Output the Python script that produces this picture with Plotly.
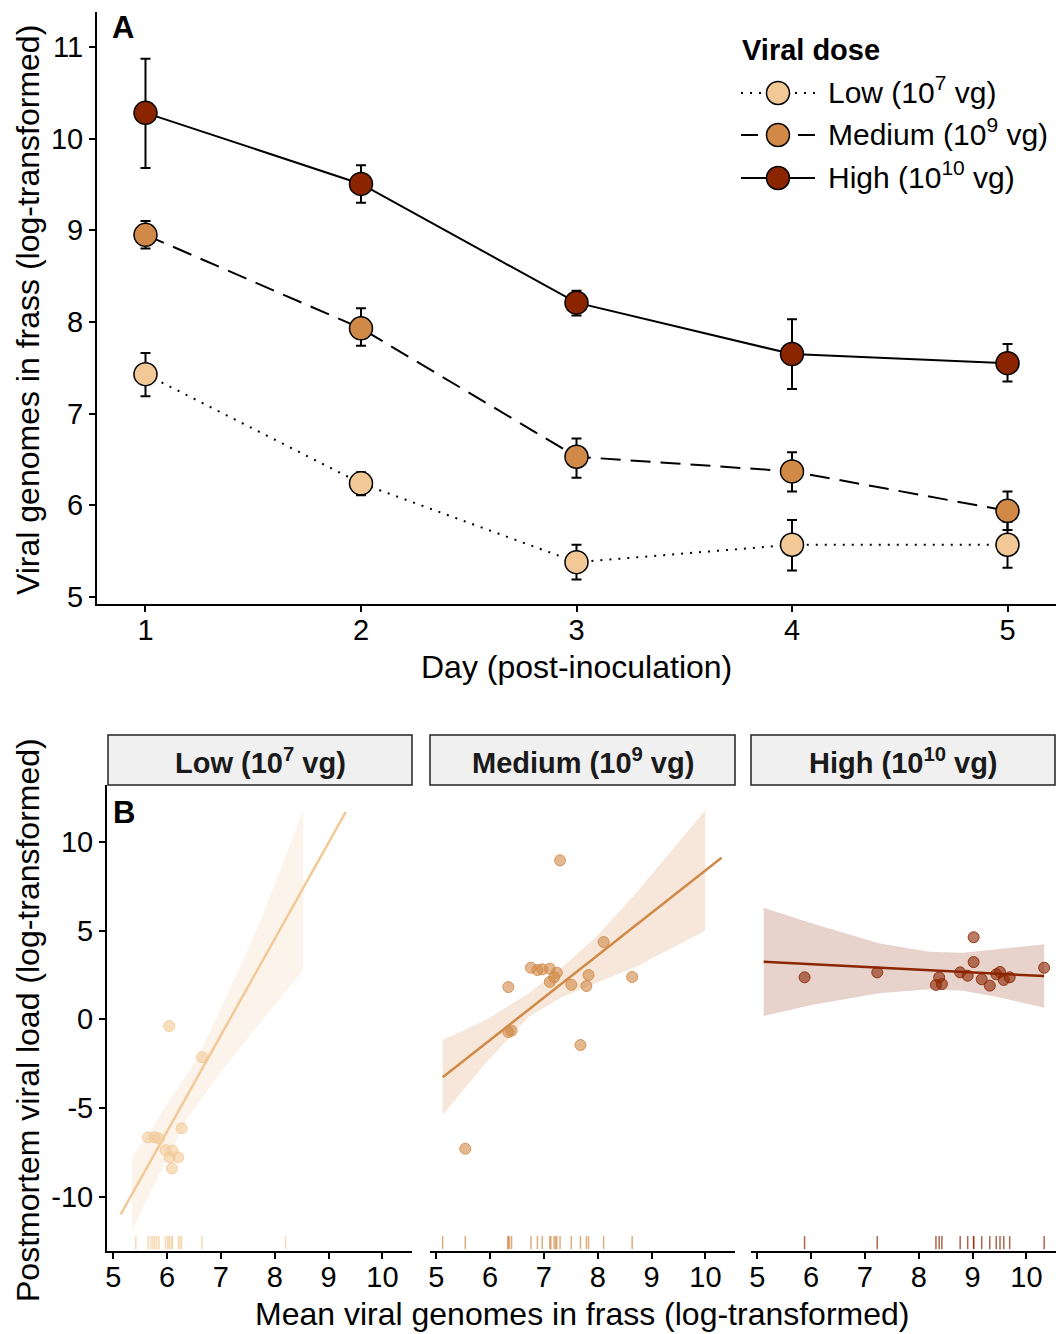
import plotly.graph_objects as go

# ---------------- Panel A data ----------------
days = [1, 2, 3, 4, 5]
low_mean = [7.43, 6.24, 5.38, 5.57, 5.57]
low_upper = [7.66, 6.36, 5.57, 5.84, 5.82]
low_lower = [7.19, 6.11, 5.19, 5.29, 5.32]
med_mean = [8.95, 7.93, 6.53, 6.37, 5.94]
med_upper = [9.10, 8.15, 6.73, 6.58, 6.15]
med_lower = [8.80, 7.74, 6.30, 6.15, 5.73]
high_mean = [10.28, 9.505, 8.21, 7.65, 7.55]
high_upper = [10.87, 9.71, 8.34, 8.03, 7.76]
high_lower = [9.68, 9.30, 8.07, 7.27, 7.35]

dose_labels = ["Low (10<sup>7</sup> vg)", "Medium (10<sup>9</sup> vg)", "High (10<sup>10</sup> vg)"]
legend_title = "Viral dose"
day_ticks = [1, 2, 3, 4, 5]
a_y_ticks = [5, 6, 7, 8, 9, 10, 11]

# ---------------- Panel B data ----------------
low_x = [6.04, 6.65, 6.27, 5.65, 5.77, 5.85, 5.97, 6.10, 6.05, 6.21, 6.09]
low_y = [-0.38, -2.14, -6.15, -6.66, -6.66, -6.72, -7.38, -7.41, -7.79, -7.79, -8.41]
low_rug_x = [5.42, 5.65, 5.70, 5.74, 5.77, 5.81, 5.85, 5.97, 6.01, 6.04, 6.05,
             6.09, 6.10, 6.21, 6.24, 6.27, 6.65, 8.20]

med_x = [7.30, 8.11, 6.76, 6.88, 6.97, 7.11, 7.24, 7.19, 7.11, 7.83, 8.64, 7.51,
         7.79, 6.34, 6.34, 6.40, 7.68, 5.54]
med_y = [8.97, 4.36, 2.91, 2.78, 2.82, 2.86, 2.63, 2.37, 2.11, 2.50, 2.39, 1.95,
         1.88, 1.82, -0.72, -0.64, -1.45, -7.30]
med_rug_x = [5.12, 5.54, 6.33, 6.34, 6.36, 6.40, 6.76, 6.88, 6.97, 7.11, 7.13, 7.19,
             7.22, 7.24, 7.30, 7.51, 7.68, 7.79, 7.83, 8.11, 8.64]

high_x = [5.88, 7.23, 8.38, 8.32, 8.43, 9.02, 9.02, 8.77, 8.91, 9.17, 9.32, 9.44,
          9.51, 9.58, 9.69, 10.33]
high_y = [2.37, 2.65, 2.37, 1.94, 1.99, 4.63, 3.23, 2.65, 2.46, 2.26, 1.90, 2.54,
          2.67, 2.22, 2.37, 2.91]
high_rug_x = list(high_x)

low_fit_x = [5.14, 9.32]
low_fit_y = [-11.0, 11.7]
med_fit_x = [5.12, 10.30]
med_fit_y = [-3.27, 9.11]
high_fit_x = [5.12, 10.33]
high_fit_y = [3.25, 2.44]

low_band_up_x = [5.35, 5.62, 6.05, 6.55, 7.10, 7.72, 8.53]
low_band_up_y = [-7.71, -6.63, -4.55, -2.30, 1.27, 5.42, 11.81]
low_band_lo_x = [5.35, 5.87, 6.36, 6.98, 7.72, 8.53]
low_band_lo_y = [-11.89, -8.69, -5.68, -3.05, -0.23, 2.78]

med_band_x = [5.12, 5.92, 6.72, 7.35, 7.97, 8.71, 10.0]
med_band_up = [-1.17, -0.04, 1.47, 2.97, 4.66, 7.11, 11.81]
med_band_lo = [-5.40, -2.48, 0.15, 1.28, 2.03, 2.97, 5.0]

high_band_x = [5.12, 6.01, 7.26, 8.19, 8.82, 9.44, 10.33]
high_band_up = [6.30, 5.42, 4.29, 3.81, 3.76, 3.95, 4.23]
high_band_lo = [0.19, 0.81, 1.47, 1.69, 1.61, 1.28, 0.65]

b_x_ticks = [5, 6, 7, 8, 9, 10]
b_y_ticks = [-10, -5, 0, 5, 10]
b_y_ticktext = ["-10", "-5", "0", "5", "10"]

# ---------------- styling ----------------
FONT = "Liberation Sans, Arial, sans-serif"
W, H = 1056, 1334
COL_LOW = (242, 201, 150)
COL_MED = (208, 137, 70)
COL_HIGH = (139, 37, 0)
DASH_LOW = "2px,7px"
DASH_MED = "20px,10px"
DASH_HIGH = "solid"
TICK_SIZE = 29
TITLE_SIZE = 32


def rgb(c, a=1.0):
    return f"rgba({c[0]},{c[1]},{c[2]},{a})"


def px_x(p):
    return p / W


def px_y(p):
    return 1 - p / H


fig = go.Figure()

# Panel A traces
series_a = [
    (low_mean, low_upper, low_lower, COL_LOW, DASH_LOW, dose_labels[0]),
    (med_mean, med_upper, med_lower, COL_MED, DASH_MED, dose_labels[1]),
    (high_mean, high_upper, high_lower, COL_HIGH, DASH_HIGH, dose_labels[2]),
]
for mean, up, lo, col, dash, name in series_a:
    fig.add_trace(go.Scatter(
        x=days, y=mean, mode="lines+markers", name=name,
        line=dict(color="black", width=2, dash=dash),
        marker=dict(size=23, color=rgb(col), line=dict(color="black", width=1.5)),
        error_y=dict(type="data", symmetric=False,
                     array=[u - m for u, m in zip(up, mean)],
                     arrayminus=[m - l for l, m in zip(lo, mean)],
                     color="black", thickness=2, width=5),
        xaxis="x", yaxis="y", showlegend=False,
    ))

# Panel B traces
facets = [
    ("x2", "y2", COL_LOW, low_x, low_y, low_fit_x, low_fit_y,
     low_band_up_x + low_band_lo_x[::-1], low_band_up_y + low_band_lo_y[::-1], low_rug_x),
    ("x3", "y3", COL_MED, med_x, med_y, med_fit_x, med_fit_y,
     med_band_x + med_band_x[::-1], med_band_up + med_band_lo[::-1], med_rug_x),
    ("x4", "y4", COL_HIGH, high_x, high_y, high_fit_x, high_fit_y,
     high_band_x + high_band_x[::-1], high_band_up + high_band_lo[::-1], high_rug_x),
]

shapes = []
for xa, ya, col, px_, py_, fx, fy, bx, by, rug in facets:
    fig.add_trace(go.Scatter(
        x=bx, y=by, mode="lines", fill="toself", fillcolor=rgb(col, 0.2),
        line=dict(width=0), hoverinfo="skip", showlegend=False, xaxis=xa, yaxis=ya))
    fig.add_trace(go.Scatter(
        x=fx, y=fy, mode="lines", line=dict(color=rgb(col), width=2.5),
        showlegend=False, xaxis=xa, yaxis=ya))
    fig.add_trace(go.Scatter(
        x=px_, y=py_, mode="markers",
        marker=dict(size=11, color=rgb(col, 0.6), line=dict(color=rgb(col, 0.85), width=1)),
        showlegend=False, xaxis=xa, yaxis=ya))
    for rx in rug:
        shapes.append(dict(type="line", xref=xa, yref=f"{ya} domain", x0=rx, x1=rx,
                           y0=0.004, y1=0.032, line=dict(color=rgb(col, 0.7), width=1.5)))

# ---------------- manual legend (pixel-space overlay axis) ----------------
leg_x0, leg_x1, leg_mx, leg_tx = 741, 815, 778, 826
leg_rows = [93, 135, 178]
annotations = []
for (mean, up, lo, col, dash, name), ly in zip(series_a, leg_rows):
    if dash == DASH_MED:
        lx, lyy = [leg_x0, 758, None, 798, leg_x1], [ly, ly, None, ly, ly]
        ldash = "solid"
    else:
        lx, lyy = [leg_x0, leg_x1], [ly, ly]
        ldash = dash
    fig.add_trace(go.Scatter(x=lx, y=lyy, mode="lines", line=dict(color="black", width=2, dash=ldash),
                             showlegend=False, hoverinfo="skip", xaxis="x5", yaxis="y5"))
    fig.add_trace(go.Scatter(x=[leg_mx], y=[ly], mode="markers",
                             marker=dict(size=23, color=rgb(col), line=dict(color="black", width=1.5)),
                             showlegend=False, hoverinfo="skip", xaxis="x5", yaxis="y5"))
    annotations.append(dict(xref="paper", yref="paper", x=px_x(leg_tx), y=px_y(ly - 3),
                            text=name, showarrow=False, xanchor="left", yanchor="middle",
                            font=dict(size=30, color="black", family=FONT)))
annotations.append(dict(xref="paper", yref="paper", x=px_x(leg_x0 - 1), y=px_y(50),
                        text=f"<b>{legend_title}</b>", showarrow=False, xanchor="left",
                        yanchor="middle", font=dict(size=29, color="black", family=FONT)))

# strips
strip_x = [(108, 412), (430, 735), (751, 1055)]
for (x0, x1), lab in zip(strip_x, dose_labels):
    shapes.append(dict(type="rect", xref="paper", yref="paper",
                       x0=px_x(x0), x1=px_x(x1), y0=px_y(785), y1=px_y(735),
                       fillcolor="#F0F0F0", line=dict(color="#222222", width=1.5), layer="below"))
    annotations.append(dict(xref="paper", yref="paper", x=px_x((x0 + x1) / 2), y=px_y(761),
                            text=f"<b>{lab}</b>", showarrow=False,
                            font=dict(size=29, color="#1a1a1a", family=FONT),
                            xanchor="center", yanchor="middle"))

# titles and panel letters
annotations += [
    dict(xref="paper", yref="paper", x=px_x(28), y=px_y(310), textangle=-90,
         text="Viral genomes in frass (log-transformed)", showarrow=False,
         font=dict(size=TITLE_SIZE, color="black", family=FONT), xanchor="center", yanchor="middle"),
    dict(xref="paper", yref="paper", x=px_x(576), y=px_y(667),
         text="Day (post-inoculation)", showarrow=False,
         font=dict(size=TITLE_SIZE, color="black", family=FONT), xanchor="center", yanchor="middle"),
    dict(xref="paper", yref="paper", x=px_x(28), y=px_y(1020), textangle=-90,
         text="Postmortem viral load (log-transformed)", showarrow=False,
         font=dict(size=TITLE_SIZE, color="black", family=FONT), xanchor="center", yanchor="middle"),
    dict(xref="paper", yref="paper", x=px_x(582), y=px_y(1314),
         text="Mean viral genomes in frass (log-transformed)", showarrow=False,
         font=dict(size=TITLE_SIZE, color="black", family=FONT), xanchor="center", yanchor="middle"),
    dict(xref="paper", yref="paper", x=px_x(123), y=px_y(28), text="<b>A</b>", showarrow=False,
         font=dict(size=31, color="black", family=FONT), xanchor="center", yanchor="middle"),
    dict(xref="paper", yref="paper", x=px_x(124), y=px_y(812), text="<b>B</b>", showarrow=False,
         font=dict(size=31, color="black", family=FONT), xanchor="center", yanchor="middle"),
]

axis_common = dict(showgrid=False, zeroline=False, showline=True, linecolor="black",
                   linewidth=2, ticks="outside", ticklen=6, tickwidth=1.5, tickcolor="black",
                   tickfont=dict(size=TICK_SIZE, color="black", family=FONT), automargin=False)
x_extra = dict(ticklabelstandoff=-7)
hidden_y = dict(showgrid=False, zeroline=False, showline=False, showticklabels=False, ticks="")

b_bottom, b_top = px_y(1251), px_y(785)

fig.update_layout(
    width=W, height=H, margin=dict(l=0, r=0, t=0, b=0),
    paper_bgcolor="white", plot_bgcolor="rgba(0,0,0,0)",
    font=dict(family=FONT, color="black"),
    showlegend=False,
    xaxis=dict(domain=[px_x(97), 1.0], range=[0.775, 5.225], tickvals=day_ticks,
               anchor="y", **axis_common, **x_extra),
    yaxis=dict(domain=[px_y(604), px_y(12)], range=[4.924, 11.38], tickvals=a_y_ticks,
               anchor="x", **axis_common),
    xaxis2=dict(domain=[px_x(107), px_x(412)], range=[4.885, 10.55], tickvals=b_x_ticks,
                anchor="y2", **axis_common, **x_extra),
    yaxis2=dict(domain=[b_bottom, b_top], range=[-13.07, 13.22], tickvals=b_y_ticks,
                ticktext=b_y_ticktext, anchor="x2", **axis_common),
    xaxis3=dict(domain=[px_x(430), px_x(735)], range=[4.885, 10.55], tickvals=b_x_ticks,
                anchor="y3", **axis_common, **x_extra),
    yaxis3=dict(domain=[b_bottom, b_top], range=[-13.07, 13.22], anchor="x3", **hidden_y),
    xaxis4=dict(domain=[px_x(751), 1.0], range=[4.885, 10.55], tickvals=b_x_ticks,
                anchor="y4", **axis_common, **x_extra),
    yaxis4=dict(domain=[b_bottom, b_top], range=[-13.07, 13.22], anchor="x4", **hidden_y),
    xaxis5=dict(domain=[0, 1], range=[0, W], visible=False, fixedrange=True, anchor="y5"),
    yaxis5=dict(domain=[0, 1], range=[H, 0], visible=False, fixedrange=True, anchor="x5"),
    shapes=shapes,
    annotations=annotations,
)

fig.write_html("out.html")
